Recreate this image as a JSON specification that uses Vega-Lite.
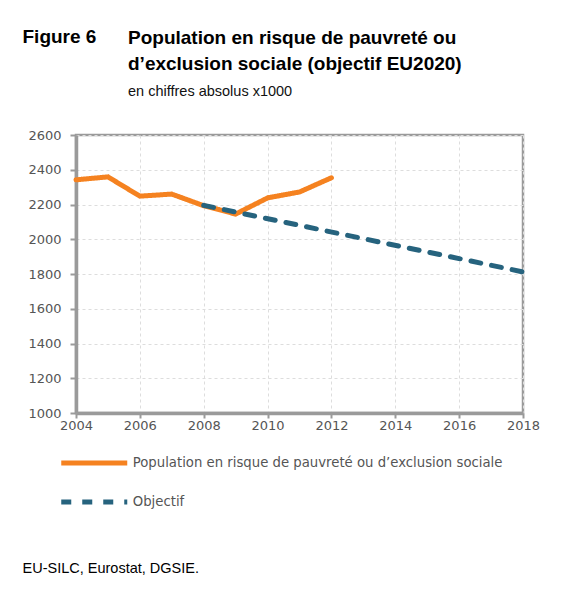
{
  "$schema": "https://vega.github.io/schema/vega-lite/v6.json",
  "width": 447,
  "height": 278,
  "autosize": {"type": "none"},
  "padding": {"left": 76, "top": 135, "right": 43, "bottom": 178},
  "background": "white",
  "title": {
    "text": ["Population en risque de pauvreté ou", "d’exclusion sociale (objectif EU2020)"],
    "subtitle": "en chiffres absolus x1000",
    "anchor": "start",
    "frame": "group",
    "dx": 52,
    "dy": 71,
    "font": "Liberation Sans",
    "fontSize": 19,
    "fontWeight": "bold",
    "color": "#000000",
    "lineHeight": 25.5,
    "subtitleFont": "Liberation Sans",
    "subtitleFontSize": 14.5,
    "subtitleColor": "#111111",
    "subtitlePadding": 11,
    "offset": 0
  },
  "data": {
    "values": [
      {"year": 2004, "value": 2342, "serie": "Population en risque de pauvreté ou d’exclusion sociale"},
      {"year": 2005, "value": 2359, "serie": "Population en risque de pauvreté ou d’exclusion sociale"},
      {"year": 2006, "value": 2248, "serie": "Population en risque de pauvreté ou d’exclusion sociale"},
      {"year": 2007, "value": 2260, "serie": "Population en risque de pauvreté ou d’exclusion sociale"},
      {"year": 2008, "value": 2193, "serie": "Population en risque de pauvreté ou d’exclusion sociale"},
      {"year": 2009, "value": 2145, "serie": "Population en risque de pauvreté ou d’exclusion sociale"},
      {"year": 2010, "value": 2238, "serie": "Population en risque de pauvreté ou d’exclusion sociale"},
      {"year": 2011, "value": 2272, "serie": "Population en risque de pauvreté ou d’exclusion sociale"},
      {"year": 2012, "value": 2354, "serie": "Population en risque de pauvreté ou d’exclusion sociale"},
      {"year": 2008, "value": 2195, "serie": "Objectif"},
      {"year": 2018, "value": 1812, "serie": "Objectif"}
    ]
  },
  "mark": {"type": "line", "strokeWidth": 5, "strokeCap": "round", "strokeJoin": "miter"},
  "encoding": {
    "x": {
      "field": "year",
      "type": "quantitative",
      "scale": {"domain": [2004, 2018], "nice": false, "zero": false},
      "axis": {
        "values": [2004, 2006, 2008, 2010, 2012, 2014, 2016, 2018],
        "format": "d",
        "labelFlush": false,
        "title": "EU-SILC, Eurostat, DGSIE.",
        "titleX": -54,
        "titleY": 159,
        "titleAlign": "left",
        "titleAnchor": "start",
        "titleBaseline": "alphabetic",
        "titleFont": "Liberation Sans",
        "titleFontSize": 14.5,
        "titleFontWeight": "normal",
        "titleColor": "#000000",
        "tickSize": 5,
        "labelPadding": 1
      }
    },
    "y": {
      "field": "value",
      "type": "quantitative",
      "scale": {"domain": [1000, 2600], "nice": false, "zero": false},
      "axis": {
        "values": [1000, 1200, 1400, 1600, 1800, 2000, 2200, 2400, 2600],
        "format": "d",
        "labelFlush": false,
        "title": "Figure 6",
        "titleAngle": 0,
        "titleX": -54,
        "titleY": -93,
        "titleAlign": "left",
        "titleAnchor": "start",
        "titleBaseline": "alphabetic",
        "titleFont": "Liberation Sans",
        "titleFontSize": 19,
        "titleFontWeight": "bold",
        "titleColor": "#000000",
        "tickSize": 6,
        "labelPadding": 9
      }
    },
    "color": {
      "field": "serie",
      "type": "nominal",
      "scale": {
        "domain": ["Population en risque de pauvreté ou d’exclusion sociale", "Objectif"],
        "range": ["#F58220", "#26637E"]
      },
      "legend": {
        "title": null,
        "orient": "none",
        "legendX": 10.25,
        "legendY": 320,
        "direction": "vertical",
        "padding": 0,
        "symbolType": "M-6,0H6",
        "symbolSize": 121,
        "symbolStrokeWidth": 5,
        "labelFont": "DejaVu Sans",
        "labelFontSize": 13.25,
        "labelColor": "#555555",
        "labelOffset": 30.5,
        "labelLimit": 500,
        "rowPadding": 19
      }
    },
    "strokeDash": {
      "field": "serie",
      "type": "nominal",
      "scale": {
        "domain": ["Population en risque de pauvreté ou d’exclusion sociale", "Objectif"],
        "range": [[1, 0], [10, 11]]
      },
      "legend": {
        "title": null,
        "orient": "none",
        "legendX": 10.25,
        "legendY": 320,
        "direction": "vertical",
        "padding": 0,
        "symbolType": "M-6,0H6",
        "symbolSize": 121,
        "symbolStrokeWidth": 5,
        "labelFont": "DejaVu Sans",
        "labelFontSize": 13.25,
        "labelColor": "#555555",
        "labelOffset": 30.5,
        "labelLimit": 500,
        "rowPadding": 19
      }
    }
  },
  "config": {
    "view": {"stroke": "#9a9a9a", "strokeWidth": 2.5},
    "axis": {
      "domainColor": "#9a9a9a",
      "domainWidth": 3.5,
      "tickColor": "#9a9a9a",
      "tickWidth": 2,
      "gridColor": "#dddddd",
      "gridDash": [3, 3],
      "gridWidth": 1,
      "labelFont": "DejaVu Sans",
      "labelFontSize": 13,
      "labelColor": "#555555"
    }
  }
}
